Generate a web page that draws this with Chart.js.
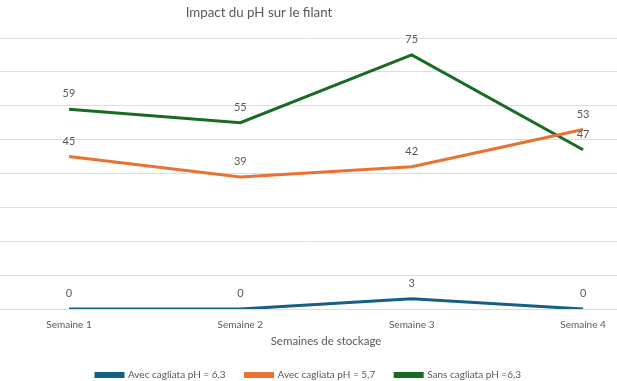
<!DOCTYPE html>
<html>
<head>
<meta charset="utf-8">
<script src="https://cdn.jsdelivr.net/npm/chart.js@4/dist/chart.umd.min.js"></script>
<style>
  html, body { margin: 0; padding: 0; background: #fff; overflow: hidden; }
  #wrap { position: relative; width: 617px; height: 381px; }
</style>
</head>
<body>
<div id="wrap"><canvas id="c" width="617" height="381"></canvas></div>
<script>
const categories = ['Semaine 1', 'Semaine 2', 'Semaine 3', 'Semaine 4'];
const seriesNames = ['Avec cagliata pH = 6,3', 'Avec cagliata pH = 5,7', 'Sans cagliata pH =6,3'];
const avecPH63 = [0, 0, 3, 0];
const avecPH57 = [45, 39, 42, 53];
const sansPH63 = [59, 55, 75, 47];
const seriesColors = ['#156082', '#E97132', '#196B24'];
const chartTitle = 'Impact du pH sur le filant';
const xAxisTitle = 'Semaines de stockage';

const FONT = 'Lato, "Noto Sans", sans-serif';
const TEXT = '#595959';

const toPoints = arr => arr.map((v, i) => ({ x: i, y: v }));

const valueLabels = {
  id: 'valueLabels',
  afterDatasetsDraw(chart) {
    const ctx = chart.ctx;
    ctx.save();
    ctx.font = '11px ' + FONT;
    ctx.fillStyle = TEXT;
    ctx.textAlign = 'center';
    ctx.textBaseline = 'middle';
    chart.data.datasets.forEach((ds, di) => {
      const meta = chart.getDatasetMeta(di);
      meta.data.forEach((pt, i) => {
        ctx.fillText(String(ds.data[i].y), pt.x, pt.y - 15.5);
      });
    });
    ctx.restore();
  }
};

const titles = {
  id: 'titles',
  afterDraw(chart) {
    const ctx = chart.ctx;
    ctx.save();
    ctx.fillStyle = TEXT;
    ctx.textAlign = 'center';
    ctx.textBaseline = 'middle';
    ctx.font = '13.3px ' + FONT;
    ctx.fillText(chartTitle, 259, 12.5);
    ctx.font = '11.5px ' + FONT;
    ctx.fillText(xAxisTitle, 326, 341);
    ctx.restore();
  }
};

new Chart(document.getElementById('c'), {
  type: 'line',
  data: {
    datasets: [avecPH63, avecPH57, sansPH63].map((arr, i) => ({
      label: seriesNames[i],
      data: toPoints(arr),
      borderColor: seriesColors[i],
      backgroundColor: seriesColors[i],
      borderWidth: 3,
      pointRadius: 0,
      pointHoverRadius: 0,
      tension: 0,
      fill: false
    }))
  },
  options: {
    responsive: false,
    animation: false,
    events: [],
    layout: { padding: { top: 38, left: 0, right: 0, bottom: -9 } },
    plugins: {
      title: { display: false },
      tooltip: { enabled: false },
      legend: {
        display: true,
        position: 'bottom',
        labels: {
          boxWidth: 27,
          boxHeight: 3,
          padding: 20,
          color: TEXT,
          font: { family: FONT, size: 10 }
        }
      }
    },
    scales: {
      x: {
        type: 'linear',
        min: -0.4027,
        max: 3.198,
        grid: { display: false, drawTicks: false },
        border: { display: false },
        afterBuildTicks: axis => { axis.ticks = categories.map((_, i) => ({ value: i })); },
        afterFit: axis => { axis.height = 41; },
        ticks: {
          padding: 10,
          color: TEXT,
          font: { family: FONT, size: 10 },
          maxRotation: 0,
          autoSkip: false,
          callback: v => categories[v]
        }
      },
      y: {
        min: 0,
        max: 80,
        grid: { color: '#dedede', lineWidth: 1, drawTicks: false },
        border: { display: false },
        ticks: { display: false, stepSize: 10 }
      }
    }
  },
  plugins: [valueLabels, titles]
});
</script>
</body>
</html>
